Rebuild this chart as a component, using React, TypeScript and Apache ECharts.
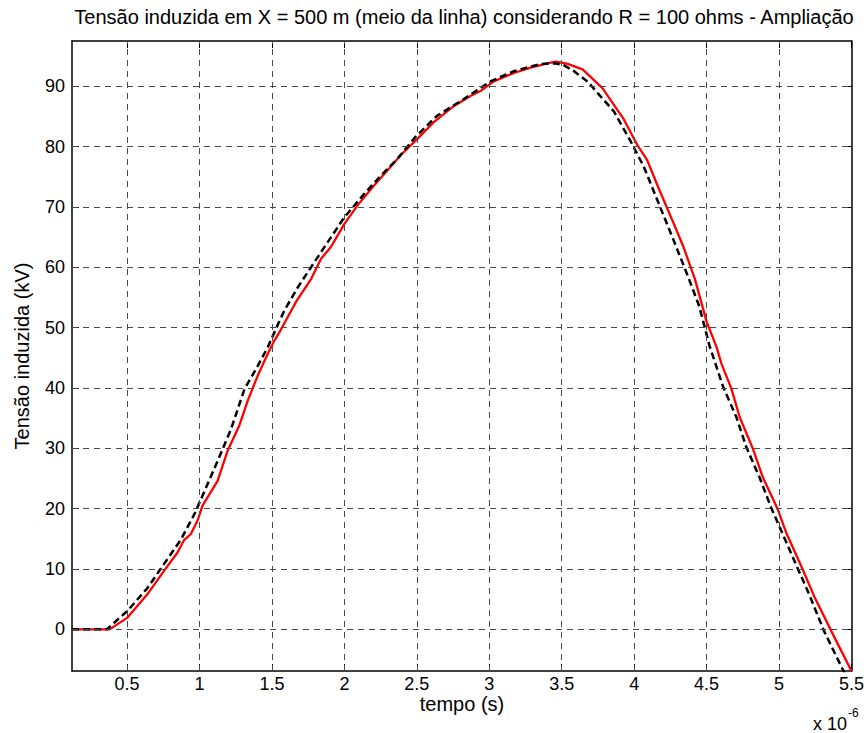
import React, { useEffect, useRef } from "react";
import * as echarts from "echarts";

// time in units of 1e-6 s, voltage in kV
const redT = [0.12, 0.38, 0.5, 0.64, 0.755, 0.847, 0.894, 0.94, 0.986, 1.021, 1.125, 1.194, 1.275, 1.333, 1.403, 1.472, 1.518, 1.56, 1.667, 1.771, 1.839, 1.908, 2.0, 2.092, 2.206, 2.298, 2.39, 2.5, 2.615, 2.754, 2.87, 2.939, 3.031, 3.17, 3.285, 3.4, 3.46, 3.54, 3.644, 3.781, 3.929, 4.021, 4.089, 4.169, 4.272, 4.34, 4.42, 4.5, 4.568, 4.603, 4.671, 4.728, 4.82, 4.888, 4.991, 5.048, 5.162, 5.242, 5.39, 5.5];
const redV = [0, 0, 1.9, 5.8, 9.7, 12.7, 14.8, 15.8, 18.0, 20.5, 24.6, 29.6, 33.8, 37.9, 42.1, 45.7, 47.9, 49.6, 54.3, 58.1, 61.4, 63.4, 67.2, 70.3, 73.6, 76.1, 78.6, 81.2, 84.0, 86.7, 88.4, 89.2, 90.8, 92.2, 93.1, 93.8, 94.1, 93.7, 92.8, 89.7, 84.5, 80.3, 77.8, 73.1, 67.3, 63.4, 58.0, 51.0, 46.8, 44.0, 39.9, 35.2, 29.9, 25.2, 19.9, 16.1, 10.0, 5.5, -1.7, -6.9];

const blackT = [0.12, 0.36, 0.5, 0.639, 0.731, 0.87, 0.963, 1.009, 1.125, 1.218, 1.31, 1.403, 1.472, 1.55, 1.587, 1.679, 1.794, 1.908, 2.0, 2.138, 2.252, 2.367, 2.49, 2.639, 2.8, 3.008, 3.17, 3.355, 3.447, 3.505, 3.585, 3.678, 3.747, 3.861, 3.975, 4.066, 4.169, 4.272, 4.363, 4.45, 4.52, 4.614, 4.705, 4.774, 4.865, 4.945, 5.025, 5.116, 5.208, 5.311, 5.447, 5.5];
const blackV = [0, 0, 3.0, 6.8, 10.0, 14.8, 19.0, 21.5, 27.9, 33.2, 39.8, 43.7, 46.8, 51.0, 52.9, 56.7, 60.9, 65.0, 68.3, 72.2, 75.2, 78.0, 81.6, 85.1, 87.5, 90.8, 92.5, 93.7, 93.8, 93.6, 92.5, 90.8, 88.9, 85.8, 80.9, 76.7, 70.6, 64.5, 59.0, 53.5, 47.0, 40.2, 35.2, 30.2, 25.2, 20.2, 15.8, 10.8, 5.8, -0.3, -7.0, -9.5];

const xTicks = [0.5, 1, 1.5, 2, 2.5, 3, 3.5, 4, 4.5, 5, 5.5];
const yTicks = [0, 10, 20, 30, 40, 50, 60, 70, 80, 90];

const titleText = "Tensão induzida em X = 500 m (meio da linha) considerando R = 100 ohms - Ampliação";
const yLabelText = "Tensão induzida (kV)";
const xLabelText = "tempo (s)";

const X_MIN = 0.12;
const X_MAX = 5.5;
const Y_MIN = -6.9;
const Y_MAX = 97.5;

const FONT = "'Liberation Sans', Arial, Helvetica, sans-serif";

export default function App() {
  const ref = useRef<HTMLDivElement>(null);

  useEffect(() => {
    document.body.style.margin = "0";
    if (!ref.current) return;
    const chart = echarts.init(ref.current, null, { renderer: "svg" });

    const axisLine = { show: true, onZero: false, lineStyle: { color: "#000", width: 1.5 } };

    const mkX = (pos: "bottom" | "top", labels: boolean) => ({
      type: "value",
      position: pos,
      min: X_MIN,
      max: X_MAX,
      axisLine,
      axisTick: { show: true, inside: true, length: 7, customValues: xTicks, lineStyle: { color: "#000", width: 1 } },
      axisLabel: {
        show: labels,
        customValues: xTicks,
        margin: 4,
        color: "#000",
        fontSize: 18,
        fontFamily: FONT,
      },
      splitLine: { show: false },
    });
    const mkY = (pos: "left" | "right", labels: boolean) => ({
      type: "value",
      position: pos,
      min: Y_MIN,
      max: Y_MAX,
      axisLine,
      axisTick: { show: true, inside: true, length: 7, customValues: yTicks, lineStyle: { color: "#000", width: 1 } },
      axisLabel: {
        show: labels,
        customValues: yTicks,
        margin: 7,
        color: "#000",
        fontSize: 18,
        fontFamily: FONT,
      },
      splitLine: { show: false },
    });

    const gridMarks = [
      ...xTicks.filter((v) => v < X_MAX).map((v) => ({ xAxis: v })),
      ...yTicks.map((v) => ({ yAxis: v })),
    ];

    chart.setOption({
      animation: false,
      backgroundColor: "#fff",
      grid: { left: 72, right: 14, top: 41, bottom: 62, containLabel: false },
      xAxis: [mkX("bottom", true), mkX("top", false)],
      yAxis: [mkY("left", true), mkY("right", false)],
      series: [
        {
          type: "line",
          xAxisIndex: 0,
          yAxisIndex: 0,
          data: [[X_MIN, 0]],
          showSymbol: false,
          lineStyle: { opacity: 0 },
          silent: true,
          z: 1,
          markLine: {
            silent: true,
            symbol: ["none", "none"],
            label: { show: false },
            lineStyle: { color: "#4a4a4a", width: 1, type: [6, 5] },
            emphasis: { disabled: true },
            data: gridMarks,
          },
        },
        {
          name: "red",
          type: "line",
          xAxisIndex: 0,
          yAxisIndex: 0,
          data: redT.map((t, i) => [t, redV[i]]),
          showSymbol: false,
          clip: true,
          z: 3,
          lineStyle: { color: "#ff0000", width: 2.3 },
        },
        {
          name: "black",
          type: "line",
          xAxisIndex: 0,
          yAxisIndex: 0,
          data: blackT.map((t, i) => [t, blackV[i]]),
          showSymbol: false,
          clip: true,
          z: 4,
          lineStyle: { color: "#000000", width: 2.5, type: [7, 4] },
        },
      ],
      graphic: [
        {
          type: "text",
          x: 464,
          y: 17,
          style: { text: titleText, font: `20px ${FONT}`, fill: "#000", align: "center", verticalAlign: "middle" },
        },
        {
          type: "text",
          x: 22,
          y: 356,
          rotation: Math.PI / 2,
          style: { text: yLabelText, font: `20px ${FONT}`, fill: "#000", align: "center", verticalAlign: "middle" },
        },
        {
          type: "text",
          x: 462,
          y: 704,
          style: { text: xLabelText, font: `20px ${FONT}`, fill: "#000", align: "center", verticalAlign: "middle" },
        },
        {
          type: "text",
          x: 847,
          y: 724,
          style: { text: "x 10", font: `18px ${FONT}`, fill: "#000", align: "right", verticalAlign: "middle" },
        },
        {
          type: "text",
          x: 848,
          y: 713,
          style: { text: "-6", font: `12px ${FONT}`, fill: "#000", align: "left", verticalAlign: "middle" },
        },
      ],
    });

    return () => chart.dispose();
  }, []);

  return <div ref={ref} style={{ position: "fixed", left: 0, top: 0, width: 867, height: 733 }} />;
}
